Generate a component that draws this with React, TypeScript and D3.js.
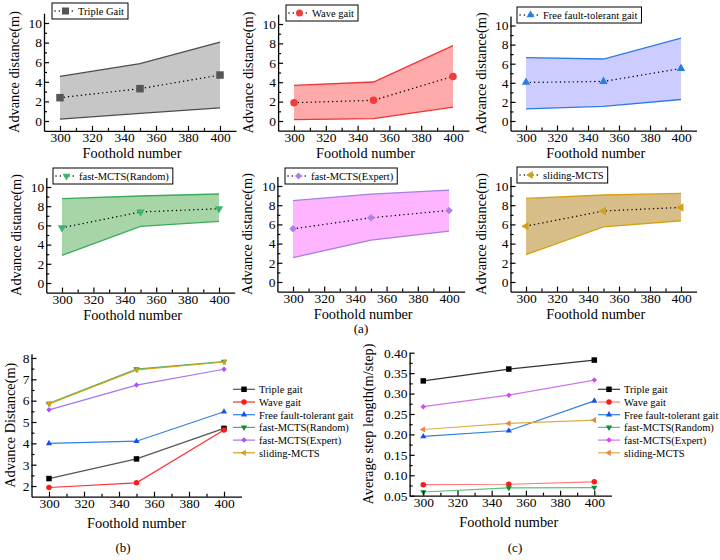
import * as d3 from "d3";
import { useEffect, useRef } from "react";

const FONT = "'Liberation Serif', 'Times New Roman', Times, serif";

const footholds = [300, 350, 400];

// (a) advance distance: mean with upper / lower envelope
const tripleMean = [2.38, 3.3, 4.69];
const tripleUpper = [4.56, 5.85, 8.06];
const tripleLower = [0.2, 0.78, 1.33];
const waveMean = [1.89, 2.13, 4.6];
const waveUpper = [3.68, 4.02, 7.77];
const waveLower = [0.14, 0.24, 1.44];
const freeMean = [4.04, 4.14, 5.5];
const freeUpper = [6.63, 6.49, 8.67];
const freeLower = [1.26, 1.54, 2.25];
const randomMean = [5.76, 7.4, 7.74];
const randomUpper = [8.78, 9.06, 9.27];
const randomLower = [2.88, 5.9, 6.42];
const expertMean = [5.54, 6.69, 7.46];
const expertUpper = [8.47, 9.16, 9.58];
const expertLower = [2.54, 4.36, 5.3];
const slidingMean = [5.82, 7.4, 7.77];
const slidingUpper = [8.71, 9.06, 9.23];
const slidingLower = [2.86, 5.75, 6.38];

// (b) advance distance
const distTriple = [2.35, 3.27, 4.7];
const distWave = [1.93, 2.15, 4.62];
const distFree = [4.0, 4.1, 5.48];
const distRandom = [5.87, 7.48, 7.83];
const distExpert = [5.57, 6.73, 7.47];
const distSliding = [5.85, 7.44, 7.81];

// (c) average step length
const stepTriple = [0.331, 0.36, 0.382];
const stepWave = [0.077, 0.078, 0.084];
const stepFree = [0.195, 0.209, 0.282];
const stepRandom = [0.059, 0.069, 0.07];
const stepExpert = [0.268, 0.296, 0.333];
const stepSliding = [0.212, 0.227, 0.235];

const bandNames = [
  "Triple Gait",
  "Wave gait",
  "Free fault-tolerant gait",
  "fast-MCTS(Random)",
  "fast-MCTS(Expert)",
  "sliding-MCTS",
];
const seriesNames = [
  "Triple gait",
  "Wave gait",
  "Free fault-tolerant gait",
  "fast-MCTS(Random)",
  "fast-MCTS(Expert)",
  "sliding-MCTS",
];

type Shape = "square" | "circle" | "up" | "down" | "diamond" | "left";
type G = d3.Selection<SVGGElement, unknown, null, undefined>;

function marker(g: G, shape: Shape, cx: number, cy: number, s: number, color: string) {
  let type: d3.SymbolType = d3.symbolSquare;
  let rot = 0;
  let size = s * s;
  if (shape === "circle") {
    type = d3.symbolCircle;
    size = (Math.PI * s * s) / 4;
  } else if (shape === "up" || shape === "down" || shape === "left") {
    type = d3.symbolTriangle;
    size = s * s * 0.55;
    rot = shape === "down" ? 180 : shape === "left" ? -90 : 0;
  } else if (shape === "diamond") {
    size = (s * s) / 2;
    rot = 45;
  }
  g.append("path")
    .attr("d", d3.symbol().type(type).size(size)())
    .attr("transform", `translate(${cx},${cy}) rotate(${rot})`)
    .attr("fill", color);
}

function drawAxes(
  g: G,
  x: d3.ScaleLinear<number, number>,
  y: d3.ScaleLinear<number, number>,
  yMajor: number[],
  yMinor: number[],
  yFmt: (d: number) => string,
) {
  const [bottom] = y.range();
  const [left] = x.range();
  const xMajor = d3.range(300, 401, 20);
  const xMinor = d3.range(310, 400, 20);

  const styleAxis = (a: G) => {
    a.attr("font-family", FONT).attr("font-size", 13.5);
    a.selectAll("line").attr("stroke", "#000").attr("stroke-width", 1.2);
    a.selectAll("path").attr("stroke", "#000").attr("stroke-width", 1.3);
  };

  const xa = g
    .append("g")
    .attr("transform", `translate(0,${bottom})`)
    .call(
      d3
        .axisBottom(x)
        .tickValues(xMajor)
        .tickSize(-5)
        .tickSizeOuter(0)
        .tickPadding(1.5)
        .tickFormat((d) => String(d)),
    );
  styleAxis(xa);
  const xm = g
    .append("g")
    .attr("transform", `translate(0,${bottom})`)
    .call(d3.axisBottom(x).tickValues(xMinor).tickSize(-3).tickFormat(() => ""));
  xm.select(".domain").remove();
  styleAxis(xm);

  const ya = g
    .append("g")
    .attr("transform", `translate(${left},0)`)
    .call(
      d3
        .axisLeft(y)
        .tickValues(yMajor)
        .tickSize(-5)
        .tickSizeOuter(0)
        .tickPadding(2)
        .tickFormat((d) => yFmt(d as number)),
    );
  styleAxis(ya);
  const ym = g
    .append("g")
    .attr("transform", `translate(${left},0)`)
    .call(d3.axisLeft(y).tickValues(yMinor).tickSize(-3).tickFormat(() => ""));
  ym.select(".domain").remove();
  styleAxis(ym);
}

function titles(
  g: G,
  x: d3.ScaleLinear<number, number>,
  y: d3.ScaleLinear<number, number>,
  xTitle: string,
  yTitle: string,
  xOff: number,
  yOff: number,
  xCenter: number,
) {
  const [bottom, top] = y.range();
  const [left] = x.range();
  g.append("text")
    .attr("x", x(xCenter))
    .attr("y", bottom + xOff)
    .attr("text-anchor", "middle")
    .attr("font-size", 14.3)
    .text(xTitle);
  g.append("text")
    .attr("transform", `translate(${left - yOff},${(top + bottom) / 2}) rotate(-90)`)
    .attr("text-anchor", "middle")
    .attr("font-size", 14.3)
    .text(yTitle);
}

export default function App() {
  const svgRef = useRef<SVGSVGElement>(null);

  useEffect(() => {
    if (!svgRef.current) return;
    const svg = d3.select(svgRef.current);
    svg.selectAll("*").remove();
    const root = svg.append("g").attr("font-family", FONT).attr("fill", "#000") as G;

    // ---- (a) six envelope panels ----
    const bandPanels = [
      { mean: tripleMean, upper: tripleUpper, lower: tripleLower, fill: "#c6c6c6", stroke: "#4d4d4d", color: "#555555", shape: "square" as Shape, x300: 60, x400: 220, y0: 121, y10: 23, lx: 52, ly: 3 },
      { mean: waveMean, upper: waveUpper, lower: waveLower, fill: "#ffaaaa", stroke: "#f03333", color: "#f03c3c", shape: "circle" as Shape, x300: 294, x400: 453, y0: 121, y10: 24, lx: 286, ly: 5 },
      { mean: freeMean, upper: freeUpper, lower: freeLower, fill: "#ccccff", stroke: "#2c7be5", color: "#2a7de1", shape: "up" as Shape, x300: 526, x400: 681, y0: 121, y10: 25.5, lx: 517, ly: 7 },
      { mean: randomMean, upper: randomUpper, lower: randomLower, fill: "#a8d5a8", stroke: "#3aaa5c", color: "#3cb371", shape: "down" as Shape, x300: 62, x400: 219, y0: 283, y10: 187, lx: 53, ly: 168 },
      { mean: expertMean, upper: expertUpper, lower: expertLower, fill: "#ffb4ff", stroke: "#a67ee6", color: "#b07ee8", shape: "diamond" as Shape, x300: 293, x400: 449, y0: 282, y10: 186, lx: 285, ly: 168 },
      { mean: slidingMean, upper: slidingUpper, lower: slidingLower, fill: "#d7bd88", stroke: "#d6a10f", color: "#d4a017", shape: "left" as Shape, x300: 526, x400: 681, y0: 282, y10: 186, lx: 517, ly: 167 },
    ];

    bandPanels.forEach((p, k) => {
      const dx = (p.x400 - p.x300) / 10;
      const dy = (p.y0 - p.y10) / 10;
      const x = d3.scaleLinear().domain([290, 410]).range([p.x300 - dx, p.x400 + dx]);
      const y = d3.scaleLinear().domain([-1, 11]).range([p.y0 + dy, p.y10 - dy]);
      const g = root.append("g") as G;
      const pts = footholds.map((f, i) => ({ f, m: p.mean[i], hi: p.upper[i], lo: p.lower[i] }));
      type P = (typeof pts)[0];

      g.append("path")
        .datum(pts)
        .attr("fill", p.fill)
        .attr("d", d3.area<P>().x((d) => x(d.f)).y0((d) => y(d.lo)).y1((d) => y(d.hi)));
      [(d: P) => d.hi, (d: P) => d.lo].forEach((acc) => {
        g.append("path")
          .datum(pts)
          .attr("fill", "none")
          .attr("stroke", p.stroke)
          .attr("stroke-width", 1.3)
          .attr("d", d3.line<P>().x((d) => x(d.f)).y((d) => y(acc(d))));
      });
      g.append("path")
        .datum(pts)
        .attr("fill", "none")
        .attr("stroke", "#000")
        .attr("stroke-width", 1.4)
        .attr("stroke-linecap", "round")
        .attr("stroke-dasharray", "0.1 4.2")
        .attr("d", d3.line<P>().x((d) => x(d.f)).y((d) => y(d.m)));
      pts.forEach((d) => marker(g, p.shape, x(d.f), y(d.m), 7.5, p.color));

      drawAxes(g, x, y, d3.range(0, 11, 2), d3.range(1, 11, 2), (d) => String(d));
      titles(g, x, y, "Foothold number", "Advance distance(m)", 27, 25, 345);

      // legend box
      const lg = g.append("g") as G;
      const rect = lg
        .append("rect")
        .attr("x", p.lx)
        .attr("y", p.ly)
        .attr("height", 16)
        .attr("fill", "#fff")
        .attr("stroke", "#000")
        .attr("stroke-width", 1);
      lg.append("line")
        .attr("x1", p.lx + 3)
        .attr("x2", p.lx + 23)
        .attr("y1", p.ly + 8)
        .attr("y2", p.ly + 8)
        .attr("stroke", "#000")
        .attr("stroke-width", 1.4)
        .attr("stroke-linecap", "round")
        .attr("stroke-dasharray", "0.1 4.2");
      marker(lg, p.shape, p.lx + 13.5, p.ly + 8, 7, p.color);
      const t = lg
        .append("text")
        .attr("x", p.lx + 26)
        .attr("y", p.ly + 12)
        .attr("font-size", 10.5)
        .text(bandNames[k]);
      const tw = (t.node() as SVGTextElement).getComputedTextLength();
      rect.attr("width", 26 + tw + 4);
    });

    root.append("text").attr("x", 361).attr("y", 333).attr("text-anchor", "middle").attr("font-size", 13).text("(a)");

    // ---- (b) and (c) line charts ----
    const lineCharts = [
      {
        x: d3.scaleLinear().domain([290, 410]).range([31.5, 241.5]),
        y: d3.scaleLinear().domain([1.5, 8.2]).range([496.7, 353.7]),
        yMajor: d3.range(2, 8.01, 1),
        yMinor: d3.range(2.5, 8, 1),
        fmt: (d: number) => String(d),
        yTitle: "Advance Distance(m)",
        yOff: 17,
        caption: "(b)",
        captionX: 123,
        legendX: 233,
        series: [distTriple, distWave, distFree, distRandom, distExpert, distSliding],
        lines: ["#555555", "#ff3030", "#2f7fe6", "#3cb371", "#a774f0", "#d4a017"],
        marks: ["#000000", "#ff1a1a", "#1450ee", "#158a3a", "#a855f7", "#d4a017"],
      },
      {
        x: d3.scaleLinear().domain([292, 410]).range([409.6, 611.4]),
        y: d3.scaleLinear().domain([0.05, 0.401]).range([495.7, 352.3]),
        yMajor: d3.range(0.05, 0.401, 0.05),
        yMinor: d3.range(0.075, 0.4, 0.05),
        fmt: (d: number) => d.toFixed(2),
        yTitle: "Average step length(m/step)",
        yOff: 37,
        caption: "(c)",
        captionX: 515,
        legendX: 598,
        series: [stepTriple, stepWave, stepFree, stepRandom, stepExpert, stepSliding],
        lines: ["#333333", "#ff7a7a", "#2f7fe6", "#5cbf7e", "#cc77ee", "#dcae45"],
        marks: ["#000000", "#ff1a1a", "#1450ee", "#158a3a", "#e040fb", "#f0843c"],
      },
    ];
    const shapes: Shape[] = ["square", "circle", "up", "down", "diamond", "left"];

    lineCharts.forEach((c) => {
      const g = root.append("g") as G;
      c.series.forEach((vals, k) => {
        const pts = footholds.map((f, i) => ({ f, v: vals[i] }));
        g.append("path")
          .datum(pts)
          .attr("fill", "none")
          .attr("stroke", c.lines[k])
          .attr("stroke-width", 1.2)
          .attr("d", d3.line<(typeof pts)[0]>().x((d) => c.x(d.f)).y((d) => c.y(d.v)));
        pts.forEach((d) => marker(g, shapes[k], c.x(d.f), c.y(d.v), 5.5, c.marks[k]));
      });
      drawAxes(g, c.x, c.y, c.yMajor, c.yMinor, c.fmt);
      titles(g, c.x, c.y, "Foothold number", c.yTitle, 31, c.yOff, 350);

      seriesNames.forEach((name, k) => {
        const ly = 389.3 + k * 12.7;
        g.append("line")
          .attr("x1", c.legendX)
          .attr("x2", c.legendX + 22)
          .attr("y1", ly)
          .attr("y2", ly)
          .attr("stroke", c.lines[k])
          .attr("stroke-width", 1.2);
        marker(g, shapes[k], c.legendX + 11, ly, 5.5, c.marks[k]);
        g.append("text")
          .attr("x", c.legendX + 26)
          .attr("y", ly + 3.8)
          .attr("font-size", 10.5)
          .text(name);
      });

      g.append("text")
        .attr("x", c.captionX)
        .attr("y", 552)
        .attr("text-anchor", "middle")
        .attr("font-size", 13)
        .text(c.caption);
    });
  }, []);

  return (
    <svg
      ref={svgRef}
      width="720"
      height="560"
      style={{ position: "absolute", left: 0, top: 0, background: "#fff" }}
    />
  );
}
